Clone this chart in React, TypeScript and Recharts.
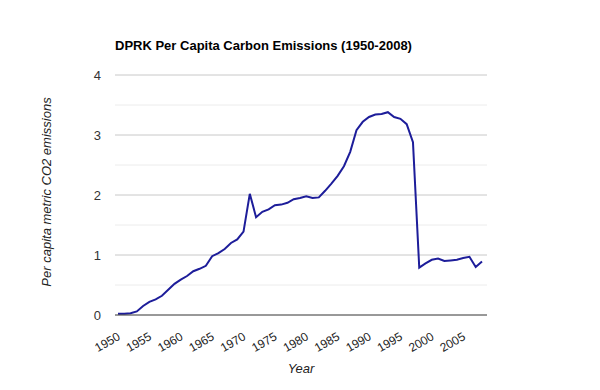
import React from "react";
import { LineChart, Line, XAxis, YAxis, CartesianGrid } from "recharts";

const years: number[] = [
  1950, 1951, 1952, 1953, 1954, 1955, 1956, 1957, 1958, 1959,
  1960, 1961, 1962, 1963, 1964, 1965, 1966, 1967, 1968, 1969,
  1970, 1971, 1972, 1973, 1974, 1975, 1976, 1977, 1978, 1979,
  1980, 1981, 1982, 1983, 1984, 1985, 1986, 1987, 1988, 1989,
  1990, 1991, 1992, 1993, 1994, 1995, 1996, 1997, 1998, 1999,
  2000, 2001, 2002, 2003, 2004, 2005, 2006, 2007, 2008,
];

const emissions: number[] = [
  0.02, 0.02, 0.03, 0.06, 0.15, 0.22, 0.26, 0.32, 0.42, 0.52,
  0.59, 0.65, 0.73, 0.77, 0.82, 0.98, 1.03, 1.1, 1.2, 1.26,
  1.39, 2.02, 1.63, 1.72, 1.76, 1.83, 1.84, 1.87, 1.93, 1.95,
  1.98, 1.95, 1.96, 2.07, 2.19, 2.32, 2.48, 2.72, 3.08, 3.22,
  3.3, 3.34, 3.35, 3.38, 3.3, 3.27, 3.18, 2.88, 0.79, 0.86,
  0.92, 0.94, 0.9, 0.91, 0.92, 0.95, 0.97, 0.8, 0.89,
];

const xTicks: number[] = [1950, 1955, 1960, 1965, 1970, 1975, 1980, 1985, 1990, 1995, 2000, 2005];
const yTicks: number[] = [0, 1, 2, 3, 4];
const minorGrid: number[] = [0.5, 1.5, 2.5, 3.5];
const majorGrid: number[] = [1, 2, 3, 4];

const data = years.map((y, i) => ({ year: y, value: emissions[i] }));

const FONT = '"Liberation Sans", Arial, sans-serif';

const XTick = (props: any) => {
  const { x, y, payload } = props;
  const tx = x + 3;
  const ty = y + 16;
  return (
    <text
      x={tx}
      y={ty}
      transform={`rotate(-30, ${tx}, ${ty})`}
      textAnchor="end"
      fontSize={12}
      fontFamily={FONT}
      fill="#222"
    >
      {payload.value}
    </text>
  );
};

export default function App() {
  return (
    <div style={{ position: "absolute", left: 0, top: 0, width: 600, height: 390, background: "#fff", fontFamily: FONT }}>
      <div
        style={{
          position: "absolute",
          left: 115,
          top: 38,
          fontSize: 13,
          fontWeight: "bold",
          color: "#000",
          whiteSpace: "nowrap",
        }}
      >
        DPRK Per Capita Carbon Emissions (1950-2008)
      </div>
      <div
        style={{
          position: "absolute",
          left: 46,
          top: 192,
          transform: "translate(-50%, -50%) rotate(-90deg)",
          fontSize: 13,
          fontStyle: "italic",
          color: "#222",
          whiteSpace: "nowrap",
        }}
      >
        Per capita metric CO2 emissions
      </div>
      <div
        style={{
          position: "absolute",
          left: 301,
          top: 368,
          transform: "translate(-50%, -50%)",
          fontSize: 13,
          fontStyle: "italic",
          color: "#222",
          whiteSpace: "nowrap",
        }}
      >
        Year
      </div>
      <LineChart
        width={600}
        height={390}
        data={data}
        margin={{ top: 75, right: 113, bottom: 0, left: 0 }}
        style={{ position: "absolute", left: 0, top: 0 }}
      >
        <CartesianGrid vertical={false} horizontalValues={minorGrid} stroke="#ececec" strokeWidth={1} />
        <CartesianGrid vertical={false} horizontalValues={majorGrid} stroke="#c8c8c8" strokeWidth={1} />
        <XAxis
          dataKey="year"
          type="number"
          domain={[1950, 2008]}
          ticks={xTicks}
          padding={{ left: 3, right: 5 }}
          axisLine={{ stroke: "#333", strokeWidth: 1 }}
          tickLine={false}
          tick={<XTick />}
          height={75}
          interval={0}
        />
        <YAxis
          type="number"
          domain={[0, 4]}
          ticks={yTicks}
          width={115}
          axisLine={false}
          tickLine={false}
          tickSize={0}
          tickMargin={14}
          tick={{ fontSize: 13, fill: "#333", fontFamily: FONT }}
        />
        <Line
          type="linear"
          dataKey="value"
          stroke="#1d1d9a"
          strokeWidth={2}
          dot={false}
          isAnimationActive={false}
        />
      </LineChart>
    </div>
  );
}
